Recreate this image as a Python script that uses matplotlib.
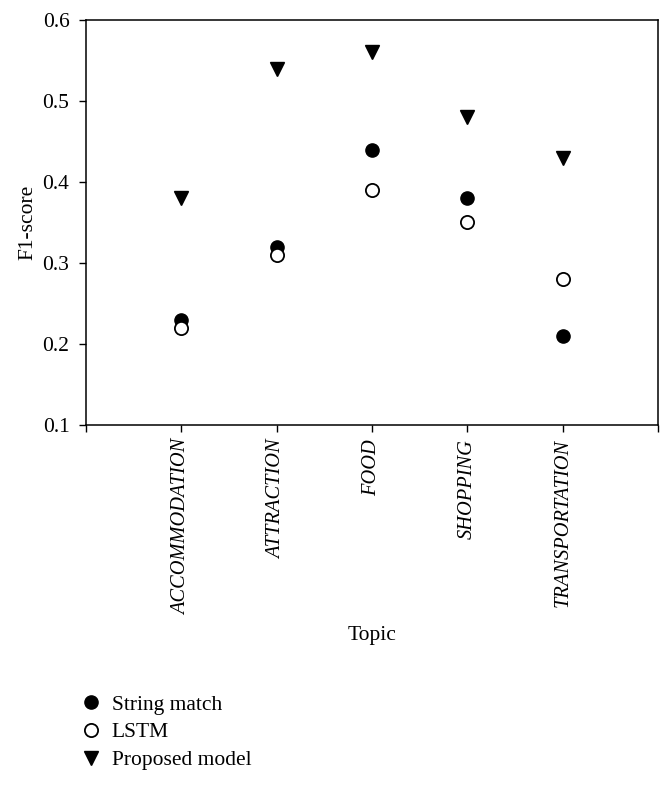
import matplotlib
matplotlib.use("Agg")
import matplotlib.pyplot as plt

categories = ["ACCOMMODATION", "ATTRACTION", "FOOD", "SHOPPING", "TRANSPORTATION"]
string_match = [0.23, 0.32, 0.44, 0.38, 0.21]
lstm = [0.22, 0.31, 0.39, 0.35, 0.28]
proposed = [0.38, 0.54, 0.56, 0.48, 0.43]
yticks = [0.1, 0.2, 0.3, 0.4, 0.5, 0.6]

plt.rcParams['font.family'] = ['Liberation Serif', 'DejaVu Serif']
FS = 15.5

fig = plt.figure(figsize=(6.62, 7.86), dpi=100)
ax = fig.add_axes([0.130, 0.4593, 0.864, 0.5153])

x = list(range(1, len(categories) + 1))
ms = 9.5
ax.plot(x, string_match, linestyle='none', marker='o', markersize=ms,
        markerfacecolor='black', markeredgecolor='black', label='String match', zorder=3)
ax.plot(x, lstm, linestyle='none', marker='o', markersize=ms,
        markerfacecolor='white', markeredgecolor='black', markeredgewidth=1.3, label='LSTM', zorder=3)
ax.plot(x, proposed, linestyle='none', marker='v', markersize=ms,
        markerfacecolor='black', markeredgecolor='black', label='Proposed model', zorder=3)

ax.set_xlim(0, len(categories) + 1)
ax.set_ylim(0.1, 0.6)
ax.set_xticks([0] + x + [len(categories) + 1])
ax.set_xticklabels([""] + categories + [""], rotation=90, style='italic', fontsize=14.7)
ax.set_yticks(yticks)
ax.set_yticklabels([f"{v:.1f}" for v in yticks], fontsize=FS)
ax.tick_params(direction='out', length=5, width=1, colors='black')
ax.tick_params(axis='y', pad=7)
ax.tick_params(axis='x', pad=5)
for s in ax.spines.values():
    s.set_linewidth(1.1)

ax.set_xlabel("Topic", fontsize=FS, labelpad=8)
ax.set_ylabel("F1-score", fontsize=FS, labelpad=4)

handles, labels = ax.get_legend_handles_labels()
fig.legend(handles, labels, loc='upper left', bbox_to_anchor=(0.102, 0.127),
           frameon=False, fontsize=FS, handletextpad=0.25, labelspacing=0.35,
           handlelength=1.4, borderaxespad=0)

fig.savefig("out.png", dpi=100)
